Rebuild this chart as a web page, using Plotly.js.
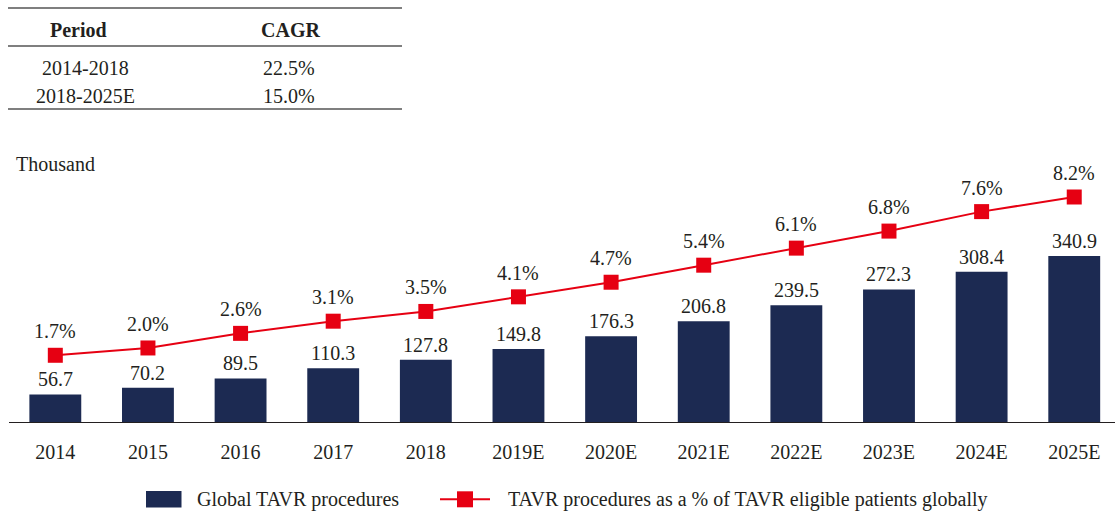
<!DOCTYPE html>
<html>
<head>
<meta charset="utf-8">
<script src="https://cdn.plot.ly/plotly-3.0.1.min.js"></script>
<style>html,body{margin:0;padding:0;background:#fff;}#chart{width:1115px;height:511px;}</style>
</head>
<body>
<div id="chart"></div>
<script>
// ---- data ----
const years = ['2014','2015','2016','2017','2018','2019E','2020E','2021E','2022E','2023E','2024E','2025E'];
const procedures = [56.7, 70.2, 89.5, 110.3, 127.8, 149.8, 176.3, 206.8, 239.5, 272.3, 308.4, 340.9];
const sharePct = [1.7, 2.0, 2.6, 3.1, 3.5, 4.1, 4.7, 5.4, 6.1, 6.8, 7.6, 8.2];
const tableHeader = ['Period', 'CAGR'];
const tablePeriods = ['2014-2018', '2018-2025E'];
const tableCagr = ['22.5%', '15.0%'];
const unitLabel = 'Thousand';
const legendNames = ['Global TAVR procedures', 'TAVR procedures as a % of TAVR eligible patients globally'];

// ---- layout helpers ----
const W = 1115, H = 511;
const M = {l: 9, r: 0, t: 150, b: 89};
const PW = W - M.l - M.r, PH = H - M.t - M.b;
const px = x => (x - M.l) / PW;
const py = y => (H - M.b - y) / PH;
const FONT = 'Liberation Serif, Times New Roman, serif';
const TXT = '#231f20';
const NAVY = '#1c2a52';
const RED = '#e60012';
const FS = 20;

const traces = [
  {
    type: 'bar', x: years, y: procedures, name: legendNames[0],
    marker: {color: NAVY}, width: 0.56, hoverinfo: 'skip'
  },
  {
    type: 'scatter', mode: 'lines+markers', x: years, y: sharePct, yaxis: 'y2',
    name: legendNames[1],
    line: {color: RED, width: 2},
    marker: {symbol: 'square', size: 15, color: RED},
    cliponaxis: false, hoverinfo: 'skip'
  }
];

const shapes = [];
const annotations = [];
// value labels (data coordinates; category index on x)
years.forEach((yr, i) => {
  annotations.push({xref: 'x', yref: 'y', x: i, y: procedures[i], text: procedures[i].toFixed(1),
    showarrow: false, xanchor: 'center', yanchor: 'bottom', yshift: 2,
    font: {family: FONT, size: FS, color: TXT}});
  annotations.push({xref: 'x', yref: 'y2', x: i, y: sharePct[i], text: sharePct[i].toFixed(1) + '%',
    showarrow: false, xanchor: 'center', yanchor: 'bottom', yshift: 11,
    font: {family: FONT, size: FS, color: TXT}});
});
// table lines
[8, 46, 109].forEach(y => shapes.push({type: 'line', xref: 'paper', yref: 'paper',
  x0: px(8), x1: px(402), y0: py(y), y1: py(y), line: {color: '#555', width: 1.4}}));
// table text
const tcx = [78, 290];
tableHeader.forEach((t, i) => annotations.push({xref: 'paper', yref: 'paper', x: px(tcx[i]), y: py(30.5),
  text: '<b>' + t + '</b>', showarrow: false, xanchor: 'center', yanchor: 'middle',
  font: {family: FONT, size: 20, color: TXT}}));
tablePeriods.forEach((t, r) => {
  const y = [68, 96][r];
  annotations.push({xref: 'paper', yref: 'paper', x: px(85), y: py(y), text: t, showarrow: false,
    xanchor: 'center', yanchor: 'middle', font: {family: FONT, size: 20, color: TXT}});
  annotations.push({xref: 'paper', yref: 'paper', x: px(289), y: py(y), text: tableCagr[r], showarrow: false,
    xanchor: 'center', yanchor: 'middle', font: {family: FONT, size: 20, color: TXT}});
});
// unit label
annotations.push({xref: 'paper', yref: 'paper', x: px(14), y: py(163.5), text: unitLabel, showarrow: false,
  xanchor: 'left', yanchor: 'middle', font: {family: FONT, size: FS, color: TXT}});
// legend
shapes.push({type: 'rect', xref: 'paper', yref: 'paper', x0: px(146), x1: px(181.5), y0: py(491), y1: py(507.5),
  fillcolor: NAVY, line: {width: 0}});
shapes.push({type: 'line', xref: 'paper', yref: 'paper', x0: px(440), x1: px(490), y0: py(499.3), y1: py(499.3),
  line: {color: RED, width: 2}});
shapes.push({type: 'rect', xref: 'paper', yref: 'paper', x0: px(457), x1: px(473), y0: py(491.3), y1: py(507.3),
  fillcolor: RED, line: {width: 0}});
annotations.push({xref: 'paper', yref: 'paper', x: px(195), y: py(499.5), text: legendNames[0], showarrow: false,
  xanchor: 'left', yanchor: 'middle', font: {family: FONT, size: FS, color: TXT}});
annotations.push({xref: 'paper', yref: 'paper', x: px(506), y: py(499.5), text: legendNames[1], showarrow: false,
  xanchor: 'left', yanchor: 'middle', font: {family: FONT, size: FS, color: TXT}});

const layout = {
  width: W, height: H, margin: M,
  paper_bgcolor: '#fff', plot_bgcolor: '#fff',
  showlegend: false, hovermode: false,
  font: {family: FONT, color: TXT},
  xaxis: {type: 'category', range: [-0.5, 11.44], showline: true, linecolor: TXT, linewidth: 1.3,
    ticks: 'outside', ticklen: 12, tickcolor: 'rgba(0,0,0,0)', showgrid: false, zeroline: false,
    tickfont: {family: FONT, size: FS, color: TXT}, fixedrange: true},
  yaxis: {range: [0, 558.5], visible: false, fixedrange: true},
  yaxis2: {range: [-1.04, 10.13], overlaying: 'y', side: 'right', visible: false, fixedrange: true},
  shapes: shapes, annotations: annotations
};

Plotly.newPlot('chart', traces, layout, {staticPlot: true, displayModeBar: false});
</script>
</body>
</html>
